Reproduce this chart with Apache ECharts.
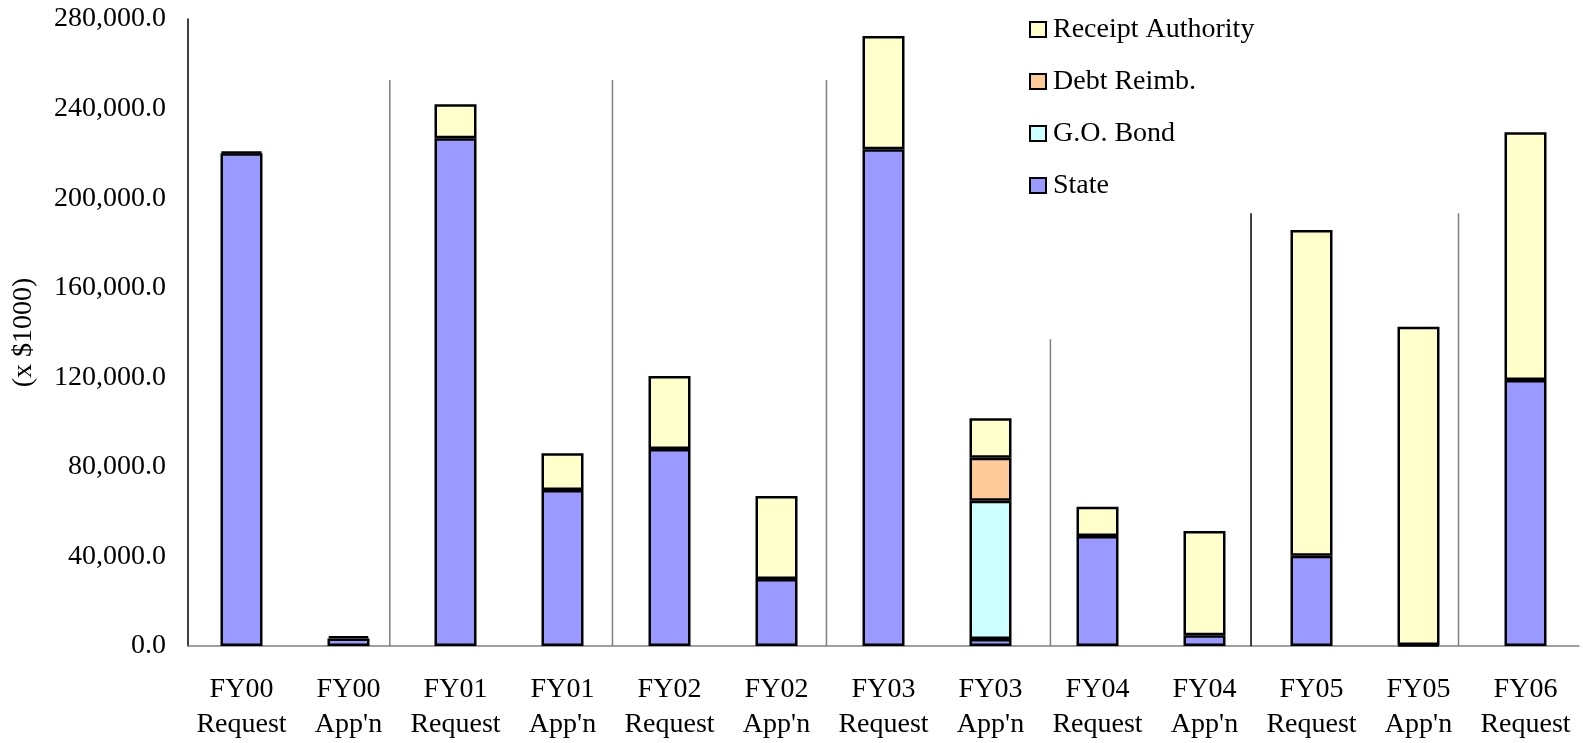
<!DOCTYPE html>
<html>
<head>
<meta charset="utf-8">
<script src="https://cdn.jsdelivr.net/npm/echarts@6/dist/echarts.min.js"></script>
<style>
html,body{margin:0;padding:0;background:#fff;}
#main{width:1583px;height:743px;}
</style>
</head>
<body>
<div id="main"></div>
<script>
const categories = ["FY00\nRequest","FY00\nApp'n","FY01\nRequest","FY01\nApp'n","FY02\nRequest","FY02\nApp'n","FY03\nRequest","FY03\nApp'n","FY04\nRequest","FY04\nApp'n","FY05\nRequest","FY05\nApp'n","FY06\nRequest"];
const seriesNames = ["State","G.O. Bond","Debt Reimb.","Receipt Authority"];
const state   = [220000, 3400, 226700, 69700, 88000, 29900, 221800, 3100, 49100, 4800, 40300, 500, 118800];
const goBond  = [null, null, null, null, null, null, null, 61800, null, null, null, null, null];
const debt    = [null, null, null, null, null, null, null, 19200, null, null, null, null, null];
const receipt = [800, 1100, 15200, 16400, 32600, 37100, 50600, 17600, 13100, 46600, 145500, 142100, 110600];
const yTicks = { min: 0, max: 280000, interval: 40000 };
// separator lines between fiscal-year groups: [category position, top value]
const dividerPos = [1.386, 3.467, 5.467, 7.56, 9.435, 11.374];
const dividerTop = [252800, 252800, 252800, 137000, 193200, 193200];

const FONT = "'Liberation Serif','Times New Roman',serif";
const colors = ['#9999FF', '#CCFFFF', '#FFCC99', '#FFFFCC'];
const values = [state, goBond, debt, receipt];

const chart = echarts.init(document.getElementById('main'), null, {renderer: 'canvas'});

const barSeries = seriesNames.map((n, i) => ({
  name: n,
  type: 'bar',
  stack: 'total',
  barWidth: 42,
  data: values[i],
  itemStyle: { color: colors[i], borderColor: '#000', borderWidth: 2.5 },
  emphasis: { disabled: true },
  z: 3
}));

chart.setOption({
  animation: false,
  color: colors,
  grid: { left: 188, right: 4, top: 19, bottom: 97, containLabel: false },
  legend: {
    orient: 'vertical',
    left: 1024,
    top: 10,
    itemWidth: 16,
    itemHeight: 15,
    itemGap: 23,
    icon: 'rect',
    selectedMode: false,
    data: ['Receipt Authority', 'Debt Reimb.', 'G.O. Bond', 'State'],
    itemStyle: { borderColor: '#000', borderWidth: 2 },
    textStyle: { fontFamily: FONT, fontSize: 28, color: '#000', padding: [0, 0, 0, 2], lineHeight: 29 }
  },
  xAxis: [{
    type: 'category',
    data: categories,
    axisLine: { show: true, lineStyle: { color: '#808080', width: 1.5 } },
    axisTick: { show: false },
    axisLabel: { interval: 0, margin: 26, fontFamily: FONT, fontSize: 28, color: '#000', lineHeight: 35 }
  }, {
    type: 'value',
    min: -0.5,
    max: categories.length - 0.5,
    show: false
  }],
  yAxis: {
    type: 'value',
    min: yTicks.min,
    max: yTicks.max,
    interval: yTicks.interval,
    name: '(x $1000)',
    nameLocation: 'middle',
    nameRotate: 90,
    nameGap: 150,
    nameTextStyle: { fontFamily: FONT, fontSize: 28, color: '#000' },
    splitLine: { show: false },
    axisTick: { show: false },
    axisLine: { show: true, onZero: false, lineStyle: { color: '#000', width: 1.5 } },
    axisLabel: {
      margin: 22,
      fontFamily: FONT, fontSize: 28, color: '#000',
      formatter: v => v.toLocaleString('en-US', { minimumFractionDigits: 1, maximumFractionDigits: 1 })
    }
  },
  series: barSeries.concat([{
    type: 'custom',
    name: 'dividers',
    xAxisIndex: 1,
    yAxisIndex: 0,
    silent: true,
    z: 1,
    data: dividerPos.map((p, i) => [p, dividerTop[i]]),
    renderItem: (params, api) => {
      const top = api.coord([api.value(0), api.value(1)]);
      const bot = api.coord([api.value(0), 0]);
      return {
        type: 'line',
        shape: { x1: top[0], y1: top[1], x2: bot[0], y2: bot[1] },
        style: { stroke: params.dataIndex === 4 ? '#000' : '#808080', lineWidth: 1.5 }
      };
    }
  }])
});
</script>
</body>
</html>
